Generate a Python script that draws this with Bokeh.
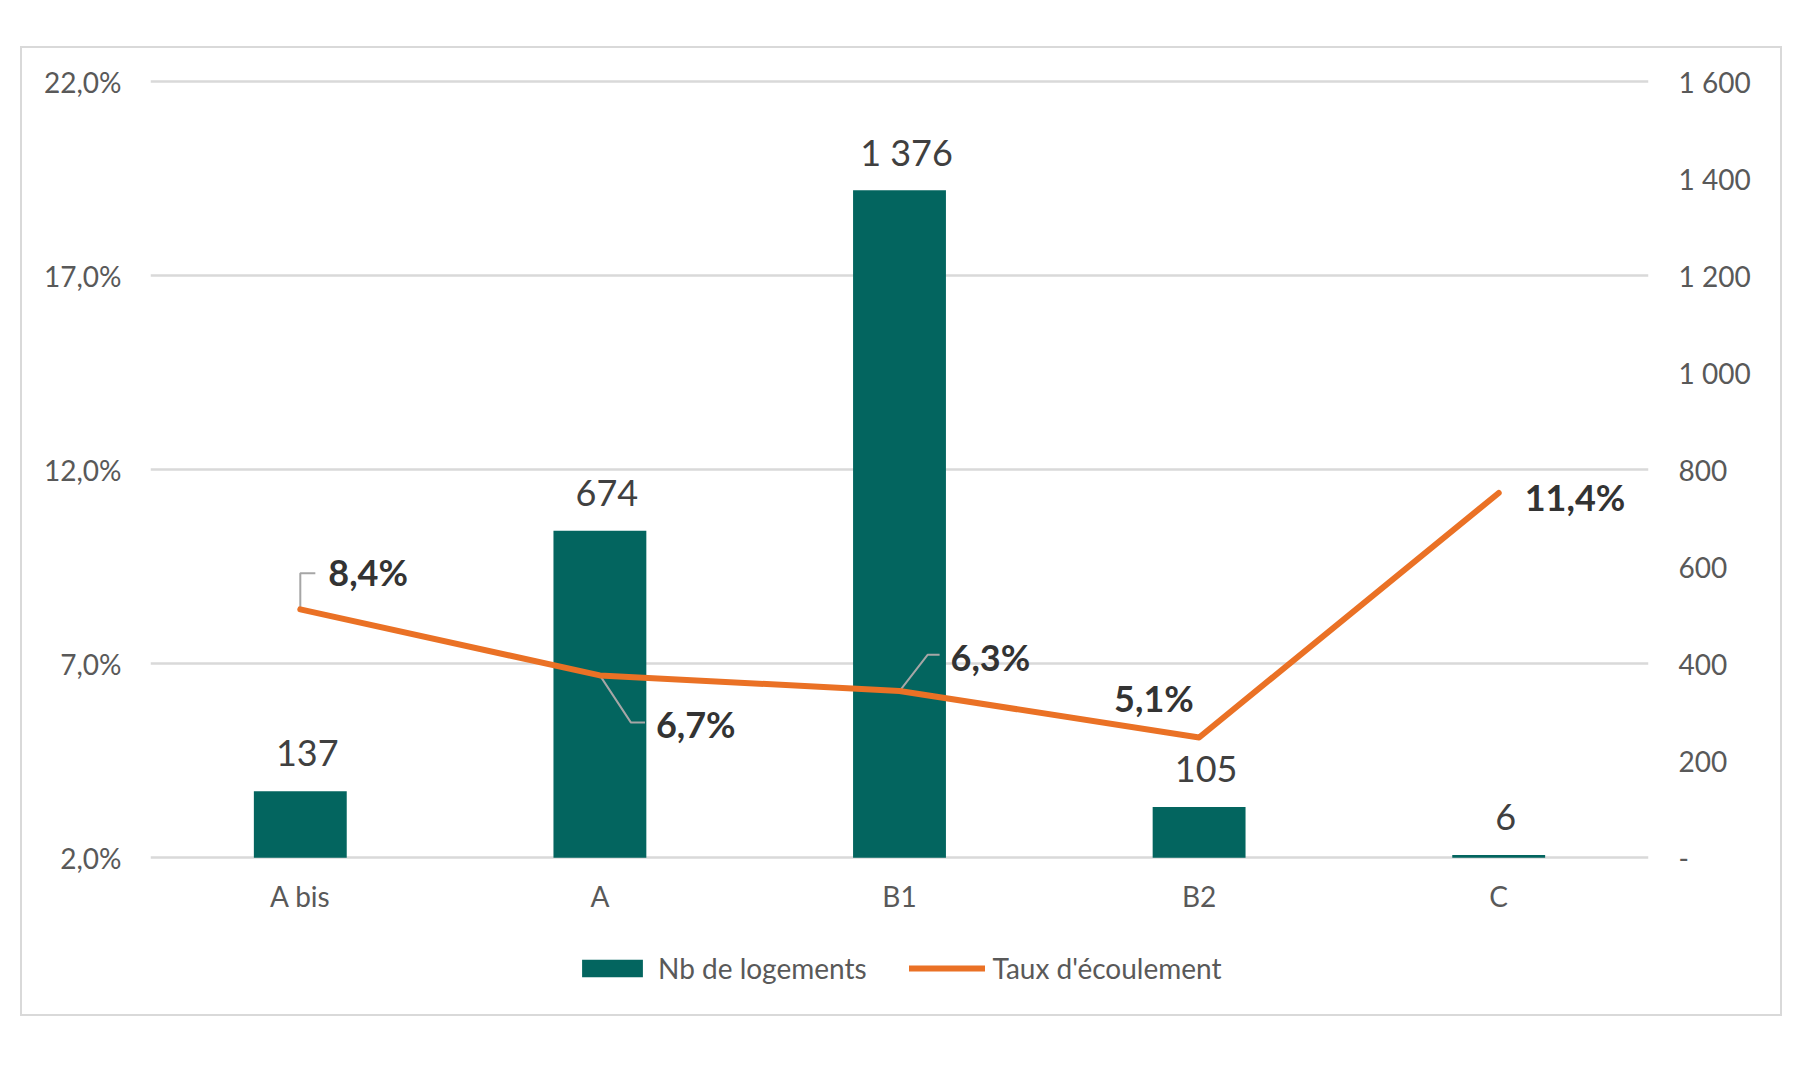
from bokeh.plotting import figure
from bokeh.models import Range1d, LinearAxis, FixedTicker, Legend, LegendItem, Spacer, ColumnDataSource
from bokeh.layouts import column, row
from bokeh.embed import file_html
from bokeh.resources import INLINE
from bokeh.core.properties import value

# ---------------- data ----------------
categories = ["A bis", "A", "B1", "B2", "C"]
nb_logements = [137, 674, 1376, 105, 6]
taux_ecoulement = [8.4, 6.7, 6.3, 5.1, 11.4]

left_ticks = [2, 7, 12, 17, 22]
left_tick_labels = ["2,0%", "7,0%", "12,0%", "17,0%", "22,0%"]
right_ticks = [0, 200, 400, 600, 800, 1000, 1200, 1400, 1600]
right_tick_labels = ["-", "200", "400", "600", "800", "1 000", "1 200", "1 400", "1 600"]

# ---------------- styling / layout ----------------
FONT = "Lato"
TEAL = "#03655F"
ORANGE = "#EA7125"
GRID = "#D9D9D9"
AXIS_TXT = "#595959"
LABEL_TXT = "#404040"
PCT_TXT = "#333333"

FRAME_W = 1494
AXIS_PX = 773            # pixel height of the 2%..22% span
TOP_PAD_PX = 2           # room above the top gridline
BOTTOM_EXT_PX = 156      # room below the baseline for category labels + legend
span = left_ticks[-1] - left_ticks[0]
pxpct = AXIS_PX / span
lo = left_ticks[0] - BOTTOM_EXT_PX / pxpct
hi = left_ticks[-1] + TOP_PAD_PX / pxpct
ratio = (right_ticks[-1] - right_ticks[0]) / span
FRAME_H = AXIS_PX + TOP_PAD_PX + BOTTOM_EXT_PX
ML, MR, MT, MB = 128, 136, 31, 4
px_x = FRAME_W / len(categories)

idx = list(range(len(categories)))
bar_labels = [f"{v:,}".replace(",", " ") for v in nb_logements]
rate_labels = [f"{v:.1f}%".replace(".", ",") for v in taux_ecoulement]

# label offsets in pixels (screen; +y = down)
pct_dx = [28, 56, 51, -85, 26]
pct_dy = [-37, 49, -34, -40, 4]
# leader lines (pixel offsets from the point), None where no leader
leaders = [
    [(0, -2), (0, -36), (15, -36)],
    [(0, 0), (31, 47), (45, 47)],
    [(1, -1), (28, -36), (40, -36)],
    None,
    None,
]

p = figure(
    frame_width=FRAME_W, frame_height=FRAME_H,
    x_range=Range1d(-0.5, len(categories) - 0.5),
    y_range=Range1d(lo, hi),
    output_backend="svg", toolbar_location=None,
    min_border_left=ML, min_border_right=MR, min_border_top=MT, min_border_bottom=MB,
)
p.extra_y_ranges = {"n": Range1d(right_ticks[0] + (lo - left_ticks[0]) * ratio,
                                 right_ticks[-1] + (hi - left_ticks[-1]) * ratio)}
p.outline_line_color = None
p.background_fill_color = "white"
p.border_fill_color = "white"
p.styles = {"border": "2px solid #D9D9D9", "box-sizing": "border-box"}

# x axis: categories drawn as text at the baseline
p.xaxis.visible = False
p.text(x=idx, y=[left_ticks[0]] * len(idx), text=categories, y_offset=38,
       text_align="center", text_baseline="middle", text_font=value(FONT),
       text_font_size="28px", text_color=AXIS_TXT)

# left axis
p.yaxis.ticker = FixedTicker(ticks=left_ticks)
p.yaxis.major_label_overrides = {t: l for t, l in zip(left_ticks, left_tick_labels)}
p.yaxis.axis_line_color = None
p.yaxis.major_tick_line_color = None
p.yaxis.minor_tick_line_color = None
p.yaxis.major_label_standoff = 23
p.yaxis.major_label_text_font = FONT
p.yaxis.major_label_text_font_size = "28px"
p.yaxis.major_label_text_color = AXIS_TXT

# right axis
ra = LinearAxis(y_range_name="n", ticker=FixedTicker(ticks=right_ticks),
                major_label_overrides={t: l for t, l in zip(right_ticks, right_tick_labels)})
ra.axis_line_color = None
ra.major_tick_line_color = None
ra.minor_tick_line_color = None
ra.major_label_standoff = 24
ra.major_label_text_font = FONT
ra.major_label_text_font_size = "28px"
ra.major_label_text_color = AXIS_TXT
p.add_layout(ra, "right")

# grid
p.xgrid.grid_line_color = None
p.ygrid.ticker = FixedTicker(ticks=left_ticks)
p.ygrid.grid_line_color = GRID
p.ygrid.grid_line_width = 2.5

# bars
src = ColumnDataSource(dict(x=idx, n=nb_logements, r=taux_ecoulement, bl=bar_labels, rl=rate_labels,
                            dx=pct_dx, dy=pct_dy))
bars = p.vbar(x="x", top="n", width=0.31, bottom=0, source=src, y_range_name="n",
              fill_color=TEAL, line_color=None)

# leader lines
lx, ly = [], []
for i, ld in enumerate(leaders):
    if ld is None:
        continue
    lx.append([idx[i] + dx / px_x for dx, dy in ld])
    ly.append([taux_ecoulement[i] - dy / pxpct for dx, dy in ld])
p.multi_line(xs=lx, ys=ly, line_color="#A6A6A6", line_width=2)

# line
ln = p.line(x="x", y="r", source=src, line_color=ORANGE, line_width=6, line_join="round", line_cap="round")

# bar labels
p.text(x="x", y="n", text="bl", source=src, y_range_name="n", x_offset=7, y_offset=-38,
       text_align="center", text_baseline="alphabetic", text_font=value(FONT),
       text_font_size="36px", text_color=LABEL_TXT)

# rate labels
p.text(x="x", y="r", text="rl", source=src, x_offset="dx", y_offset="dy",
       text_align="left", text_baseline="middle", text_font=value(FONT),
       text_font_size="36px", text_font_style="bold", text_color=PCT_TXT)

legend = Legend(items=[LegendItem(label="Nb de logements", renderers=[bars]),
                       LegendItem(label="Taux d'écoulement", renderers=[ln])],
                orientation="horizontal", location=(424, 29),
                glyph_width=76, glyph_height=22, label_standoff=8, spacing=42,
                padding=0, margin=0, border_line_color=None, background_fill_alpha=0,
                label_text_font=FONT, label_text_font_size="28px", label_text_color=AXIS_TXT)
p.add_layout(legend, "center")

layout = column(Spacer(height=46), row(Spacer(width=20), p))
open("out.html", "w").write(file_html(layout, INLINE))
